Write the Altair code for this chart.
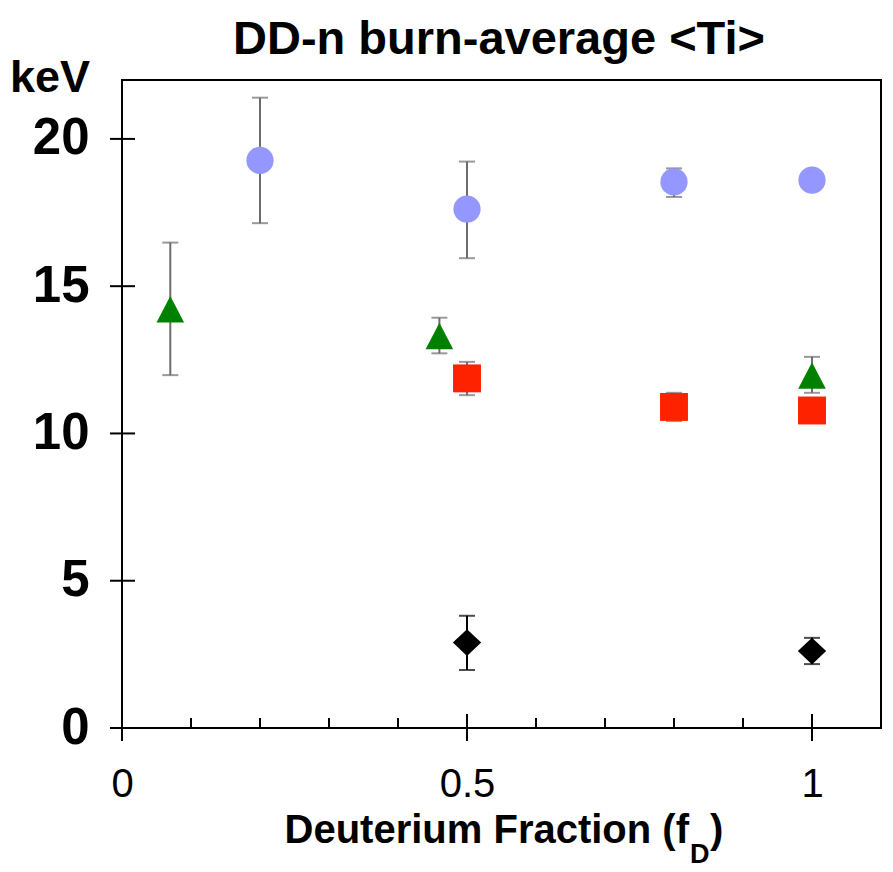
import altair as alt
import pandas as pd

# ---- data ----
circ_x = [0.2, 0.5, 0.8, 1.0]
circ_y = [19.27, 17.62, 18.54, 18.60]
circ_lo = [17.14, 15.95, 18.03, 18.35]
circ_hi = [21.40, 19.23, 19.00, 18.85]

tri_x = [0.07, 0.46, 1.0]
tri_y = [14.22, 13.31, 11.97]
tri_lo = [11.98, 12.72, 11.38]
tri_hi = [16.48, 13.93, 12.60]

sq_x = [0.5, 0.8, 1.0]
sq_y = [11.87, 10.90, 10.78]
sq_lo = [11.30, 10.42, 10.55]
sq_hi = [12.43, 11.38, 11.00]

dia_x = [0.5, 1.0]
dia_y = [2.90, 2.61]
dia_lo = [1.97, 2.17]
dia_hi = [3.81, 3.06]

y_ticks = [0, 5, 10, 15, 20]
x_major = [0, 0.5, 1]
x_minor = [0.1, 0.2, 0.3, 0.4, 0.6, 0.7, 0.8, 0.9]

rows = []
for name, xs_, ys_, lo_, hi_ in [
    ("circle", circ_x, circ_y, circ_lo, circ_hi),
    ("triangle", tri_x, tri_y, tri_lo, tri_hi),
    ("square", sq_x, sq_y, sq_lo, sq_hi),
    ("diamond", dia_x, dia_y, dia_lo, dia_hi),
]:
    for a, b, c, d in zip(xs_, ys_, lo_, hi_):
        rows.append({"series": name, "fD": a, "Ti": b, "lo": c, "hi": d})
df = pd.DataFrame(rows)

W, H = 759, 648
FONT = "Liberation Sans, Arial, Helvetica, sans-serif"
xscale = alt.Scale(domain=[0, 1.1], nice=False, zero=False)
yscale = alt.Scale(domain=[0, 22], nice=False)

series_dom = ["circle", "triangle", "square", "diamond"]
color_rng = ["#9397ff", "#008000", "#ff2200", "#000000"]
shape_rng = ["circle", "M0,-0.96L1,0.96L-1,0.96Z", "square", "M-1,0L0,-0.95L1,0L0,0.95Z"]
size_rng = [740, 800, 760, 1000]

base = alt.Chart(df)

x_axis = alt.Axis(values=x_major, format="~g", labelFontSize=40, labelFont=FONT,
                  labelColor="black", labelPadding=36, ticks=False, tickSize=0,
                  domain=False, grid=False, title="", labelFlush=False)
y_axis = alt.Axis(values=y_ticks, format="~g", labelFontSize=51, labelFontWeight="bold",
                  labelFont=FONT, labelColor="black", labelPadding=33, ticks=False,
                  tickSize=0, domain=False, grid=False, title="")


def X(field):
    return alt.X(field, scale=xscale, axis=x_axis)


def Y(field):
    return alt.Y(field, scale=yscale, axis=y_axis)


def errbars(filt, col):
    b = base.transform_filter(filt)
    rule = b.mark_rule(strokeWidth=2, color=col).encode(x=X("fD:Q"), y=Y("lo:Q"), y2="hi:Q")
    cap_lo = b.mark_tick(orient="horizontal", size=16, thickness=2, color=col).encode(
        x=X("fD:Q"), y=Y("lo:Q"))
    cap_hi = b.mark_tick(orient="horizontal", size=16, thickness=2, color=col).encode(
        x=X("fD:Q"), y=Y("hi:Q"))
    return [rule, cap_lo, cap_hi]


err_gray = errbars("datum.series != 'diamond'", "#6d6d6d")
err_black = errbars("datum.series == 'diamond'", "#000000")

points = base.mark_point(filled=True, opacity=1, strokeWidth=0).encode(
    x=X("fD:Q"),
    y=Y("Ti:Q"),
    color=alt.Color("series:N", scale=alt.Scale(domain=series_dom, range=color_rng), legend=None),
    shape=alt.Shape("series:N", scale=alt.Scale(domain=series_dom, range=shape_rng), legend=None),
    size=alt.Size("series:N", scale=alt.Scale(domain=series_dom, range=size_rng), legend=None),
)

ytick_rules = alt.Chart(pd.DataFrame({"v": y_ticks})).mark_rule(color="black", strokeWidth=2).encode(
    y=Y("v:Q"), x=alt.value(-12), x2=alt.value(13)
)
xmajor_rules = alt.Chart(pd.DataFrame({"v": x_major})).mark_rule(color="black", strokeWidth=2).encode(
    x=X("v:Q"), y=alt.value(H - 14), y2=alt.value(H + 13)
)
xminor_rules = alt.Chart(pd.DataFrame({"v": x_minor})).mark_rule(color="black", strokeWidth=2).encode(
    x=X("v:Q"), y=alt.value(H - 10), y2=alt.value(H)
)


def label(text, size, x, y, align):
    return alt.Chart(pd.DataFrame({"t": [text]})).mark_text(
        font=FONT, fontSize=size, fontWeight="bold", align=align, baseline="alphabetic",
        color="black"
    ).encode(text="t:N", x=alt.value(x), y=alt.value(y))


title = label("DD-n burn-average <Ti>", 47, 377, -26, "center")
kev = label("keV", 45, -112, 12, "left")
xt_main = label("Deuterium Fraction (f", 40, 567, 763, "right")
xt_sub = label("D", 27, 568, 783, "left")
xt_close = label(")", 40, 588, 763, "left")

chart = alt.layer(
    *err_gray, *err_black, points, ytick_rules, xmajor_rules, xminor_rules,
    title, kev, xt_main, xt_sub, xt_close
).properties(
    width=W, height=H,
    autosize=alt.AutoSizeParams(type="none"),
    padding={"left": 122, "top": 80, "right": 12, "bottom": 144},
).configure(background="white").configure_view(stroke="black", strokeWidth=2)

chart.save("out.html", embed_options={"renderer": "svg", "actions": False})
